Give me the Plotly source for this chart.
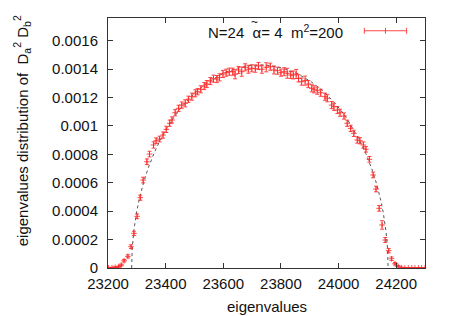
import plotly.graph_objects as go

# ---- data ----
eig_x = [23202, 23214, 23225, 23237, 23246, 23256, 23269, 23280, 23290, 23301,
         23312, 23322, 23335, 23344, 23358, 23367, 23379, 23391, 23402, 23414,
         23422, 23433, 23445, 23456, 23468, 23479, 23491, 23503, 23511, 23522,
         23534, 23543, 23555, 23566, 23578, 23587, 23599, 23610, 23621, 23633,
         23641, 23653, 23664, 23676, 23687, 23699, 23711, 23722, 23734, 23749,
         23763, 23776, 23788, 23800, 23811, 23822, 23834, 23843, 23853, 23861,
         23872, 23884, 23895, 23907, 23915, 23926, 23938, 23953, 23961, 23976,
         23984, 23996, 24005, 24019, 24030, 24042, 24053, 24065, 24074, 24086,
         24095, 24107, 24120, 24130, 24141, 24151, 24162, 24174, 24184, 24196,
         24207, 24219, 24230, 24242, 24254, 24265, 24277, 24288, 24300]

dist_e4 = [0.01, 0.02, 0.05, 0.10, 0.21, 0.51, 0.82, 1.50, 2.44, 3.64,
           4.95, 6.19, 7.48, 8.02, 8.66, 8.96, 9.08, 9.36, 9.76, 10.19,
           10.42, 10.93, 11.24, 11.47, 11.59, 11.88, 12.06, 12.30, 12.41, 12.58,
           12.81, 12.95, 13.16, 13.33, 13.30, 13.42, 13.66, 13.75, 13.82, 13.82,
           13.64, 13.94, 13.82, 14.13, 13.99, 14.06, 14.03, 14.22, 13.99, 14.13,
           14.17, 13.94, 13.89, 13.75, 13.82, 13.71, 13.59, 13.59, 13.66, 13.35,
           13.12, 13.19, 12.95, 12.65, 12.58, 12.48, 12.34, 12.06, 11.95, 11.47,
           11.35, 11.12, 10.93, 10.70, 10.19, 9.83, 9.48, 9.01, 8.96, 8.66,
           8.36, 7.65, 6.55, 5.56, 4.20, 3.03, 1.97, 1.22, 0.65, 0.30,
           0.12, 0.02, 0.00, 0.00, 0.00, 0.00, 0.00, 0.00, 0.00]

err_e4 = [0.03, 0.03, 0.04, 0.05, 0.07, 0.09, 0.11, 0.13, 0.15, 0.17,
          0.18, 0.20, 0.20, 0.20, 0.22, 0.20, 0.20, 0.22, 0.22, 0.22,
          0.22, 0.22, 0.22, 0.22, 0.25, 0.22, 0.25, 0.25, 0.22, 0.25,
          0.25, 0.25, 0.25, 0.25, 0.25, 0.25, 0.25, 0.25, 0.25, 0.25,
          0.32, 0.25, 0.32, 0.25, 0.28, 0.25, 0.25, 0.25, 0.28, 0.32,
          0.25, 0.28, 0.25, 0.25, 0.28, 0.35, 0.25, 0.28, 0.32, 0.25,
          0.25, 0.32, 0.25, 0.25, 0.25, 0.25, 0.25, 0.25, 0.25, 0.25,
          0.25, 0.25, 0.25, 0.22, 0.22, 0.22, 0.22, 0.22, 0.22, 0.22,
          0.20, 0.20, 0.20, 0.20, 0.20, 0.30, 0.18, 0.15, 0.12, 0.09,
          0.06, 0.04, 0.03, 0.03, 0.03, 0.03, 0.03, 0.03, 0.03]

curve_x = [23282, 23284, 23290, 23300, 23310, 23325, 23340, 23360, 23380, 23400,
           23425, 23450, 23480, 23510, 23550, 23600, 23650, 23700, 23727, 23755,
           23805, 23855, 23905, 23945, 23975, 24005, 24030, 24055, 24075, 24095,
           24115, 24130, 24145, 24155, 24165, 24170, 24172]
curve_y = [0.0, 0.000136, 0.000270, 0.000402, 0.000499, 0.000613, 0.000706, 0.000809,
           0.000895, 0.000970, 0.001050, 0.001119, 0.001189, 0.001249, 0.001312,
           0.001371, 0.001408, 0.001427, 0.001430, 0.001427, 0.001408, 0.001371,
           0.001311, 0.001248, 0.001187, 0.001118, 0.001049, 0.000966, 0.000891,
           0.000804, 0.000700, 0.000606, 0.000491, 0.000391, 0.000253, 0.000136, 0.0]

x_ticks = [23200, 23400, 23600, 23800, 24000, 24200]
x_tick_text = ["23200", "23400", "23600", "23800", "24000", "24200"]
y_ticks = [0, 0.0002, 0.0004, 0.0006, 0.0008, 0.001, 0.0012, 0.0014, 0.0016]
y_tick_text = ["0", "0.0002", "0.0004", "0.0006", "0.0008", "0.001", "0.0012", "0.0014", "0.0016"]

dist = [v * 1e-4 for v in dist_e4]
err = [v * 1e-4 for v in err_e4]

FONT = "Liberation Sans, Arial, sans-serif"
RED = "rgba(255,40,40,0.85)"
TXT = "#111111"

fig = go.Figure()
fig.add_trace(go.Scatter(
    x=curve_x, y=curve_y, mode="lines",
    line=dict(color="#555555", width=1, dash="dot"),
    showlegend=False, hoverinfo="skip"))
fig.add_trace(go.Scatter(
    x=eig_x, y=dist, mode="markers",
    marker=dict(symbol="cross-thin", size=4, color=RED, line=dict(color=RED, width=1)),
    error_y=dict(type="data", array=err, visible=True, color=RED, thickness=1, width=2),
    showlegend=False))

axis_common = dict(
    showline=True, linecolor="#333333", linewidth=1, mirror="ticks",
    ticks="inside", ticklen=5, tickcolor="#333333", tickwidth=1,
    showgrid=False, zeroline=False,
    tickfont=dict(family=FONT, size=15, color=TXT),
)

# page body has an 8px margin, so the figure is sized to fit the window
fig.update_layout(
    width=444, height=308,
    margin=dict(l=100, r=27, t=10, b=48),
    paper_bgcolor="white", plot_bgcolor="white",
    font=dict(family=FONT, size=15, color=TXT),
    xaxis=dict(range=[23200, 24300], tickvals=x_ticks, ticktext=x_tick_text,
               ticklabelstandoff=2, **axis_common),
    yaxis=dict(range=[0, 0.00176], tickvals=y_ticks, ticktext=y_tick_text,
               ticklabelstandoff=6, **axis_common),
    showlegend=False,
)

# x title
fig.add_annotation(
    xref="paper", yref="paper", x=0.5, y=-0.152, text="eigenvalues",
    showarrow=False, font=dict(family=FONT, size=15, color=TXT),
    xanchor="center", yanchor="middle")

# rotated y title
fig.add_annotation(
    xref="paper", yref="paper", x=-0.272, y=0.55, textangle=-90,
    text="eigenvalues distribution of  D<sub>a</sub><sup>2</sup> D<sub>b</sub><sup>2</sup>",
    showarrow=False, font=dict(family=FONT, size=15, color=TXT),
    xanchor="center", yanchor="middle")

# key text
fig.add_annotation(
    xref="paper", yref="paper", x=0.748, y=0.945, xanchor="right", yanchor="middle",
    text="N=24  α= 4  m<sup>2</sup>=200", showarrow=False,
    font=dict(family=FONT, size=15, color=TXT))
# tilde over alpha
fig.add_annotation(
    xref="paper", yref="paper", x=0.461, y=0.985, xanchor="center", yanchor="middle",
    text="~", showarrow=False, font=dict(family=FONT, size=12, color=TXT))

# key sample (error bar symbol)
ky = 0.949
kx0, kx1 = 0.8085, 0.942
fig.add_shape(type="line", xref="paper", yref="paper", x0=kx0, x1=kx1, y0=ky, y1=ky,
              line=dict(color=RED, width=1))
for kx in (kx0, kx1, (kx0 + kx1) / 2):
    fig.add_shape(type="line", xref="paper", yref="paper", x0=kx, x1=kx,
                  y0=ky - 0.012, y1=ky + 0.012, line=dict(color=RED, width=1))

fig.write_html("out.html")
